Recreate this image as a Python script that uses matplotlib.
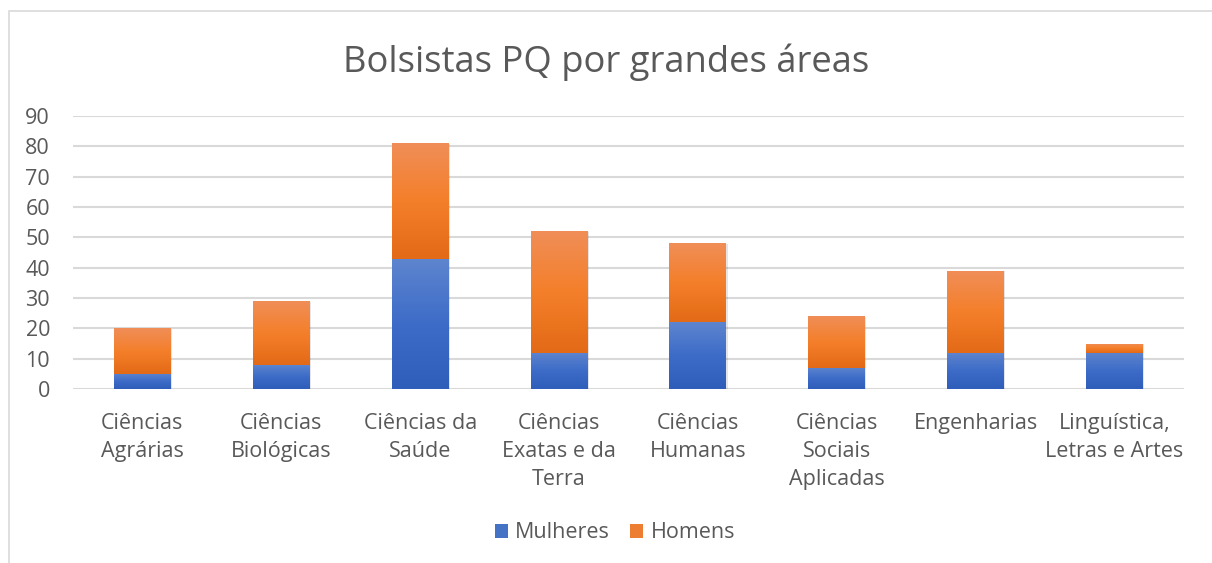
import numpy as np
import matplotlib
matplotlib.use("Agg")
import matplotlib.pyplot as plt
from matplotlib.colors import LinearSegmentedColormap
from matplotlib.patches import Rectangle, Patch

categories = ["Ciências\nAgrárias", "Ciências\nBiológicas", "Ciências da\nSaúde",
              "Ciências\nExatas e da\nTerra", "Ciências\nHumanas",
              "Ciências\nSociais\nAplicadas", "Engenharias", "Linguística,\nLetras e Artes"]
mulheres = [5, 8, 43, 12, 22, 7, 12, 12]
homens = [15, 21, 38, 40, 26, 17, 27, 3]
title = "Bolsistas PQ por grandes áreas"
yticks = [0, 10, 20, 30, 40, 50, 60, 70, 80, 90]

plt.rcParams['font.family'] = ['Open Sans', 'DejaVu Sans']
TXT = '#595959'
FS = 15.5

W, H = 1212, 563
fig = plt.figure(figsize=(W/100, H/100), dpi=100)
fig.patches.append(Rectangle((9/W, -0.1), 1.2, (H-11)/H + 0.1, transform=fig.transFigure,
                             fill=False, edgecolor='#D9D9D9', linewidth=1.2))
ax = fig.add_axes([73/W, (H-389)/H, (1184-73)/W, (389-116)/H])

x = np.arange(len(categories))
bw = 0.41
b1 = ax.bar(x, mulheres, bw, color='#4472C4', zorder=3)
b2 = ax.bar(x, homens, bw, bottom=mulheres, color='#ED7D31', zorder=3)

blue_cm = LinearSegmentedColormap.from_list('b', ['#2E5EB9', '#3D6CC8', '#5E85CE'])
orange_cm = LinearSegmentedColormap.from_list('o', ['#E36A16', '#F47F2A', '#F08E58'])
grad = np.linspace(0, 1, 256).reshape(-1, 1)
for bars, cm in ((b1, blue_cm), (b2, orange_cm)):
    for p in bars:
        x0, y0 = p.get_x(), p.get_y()
        w, h = p.get_width(), p.get_height()
        if h <= 0:
            continue
        sh = Rectangle((x0 + 0.008, y0 - 0.25), w, h, facecolor='#000000', alpha=0.10,
                       edgecolor='none', zorder=2)
        ax.add_patch(sh)
        im = ax.imshow(grad, cmap=cm, origin='lower', aspect='auto',
                       extent=(x0, x0 + w, y0, y0 + h), zorder=4)
        im.set_clip_path(p)

ax.set_xlim(-0.5, len(categories) - 0.5)
ax.set_ylim(0, 90)
ax.set_yticks(yticks)
ax.set_xticks(x)
ax.set_xticklabels(categories, fontsize=FS, color=TXT, linespacing=1.45)
ax.tick_params(axis='y', labelsize=FS, labelcolor=TXT, length=0, pad=16.5)
ax.tick_params(axis='x', length=0, pad=17)
ax.yaxis.grid(True, color='#D9D9D9', linewidth=1.5, zorder=0)
ax.set_axisbelow(True)
for s in ax.spines.values():
    s.set_visible(False)

fig.text(0.5, (H-62)/H, title, ha='center', va='center', fontsize=26.2, color=TXT)

handles = [Patch(facecolor='#4472C4', label='Mulheres'), Patch(facecolor='#ED7D31', label='Homens')]
fig.legend(handles=handles, loc='center', bbox_to_anchor=(615/W, (H-533)/H), ncol=2,
           frameon=False, fontsize=FS, labelcolor=TXT, handlelength=0.6, handleheight=0.6,
           handletextpad=0.35, columnspacing=0.95)

fig.savefig('out.png', dpi=100, facecolor='white')
